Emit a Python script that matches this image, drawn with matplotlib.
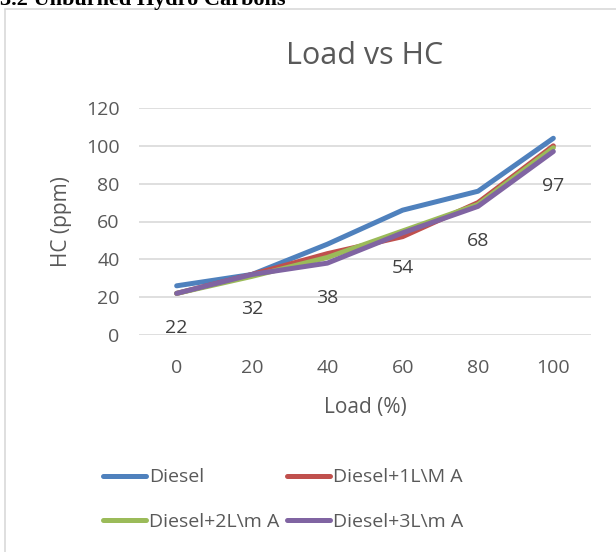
import matplotlib

matplotlib.use("Agg")

import matplotlib.pyplot as plt
from matplotlib.patches import Rectangle

# data
loads = [0, 20, 40, 60, 80, 100]
diesel = [26, 32, 48, 66, 76, 104]
diesel_1l = [22, 32, 43, 52, 70, 100]
diesel_2l = [22, 31, 41, 55, 69, 99]
diesel_3l = [22, 32, 38, 54, 68, 97]

series = [
    ("Diesel", diesel, "#4F81BD"),
    ("Diesel+1L\\M A", diesel_1l, "#C0504D"),
    ("Diesel+2L\\m A", diesel_2l, "#9BBB59"),
    ("Diesel+3L\\m A", diesel_3l, "#8064A2"),
]
label_values = diesel_3l

TXT = "#595959"
plt.rcParams["font.family"] = ["Open Sans", "DejaVu Sans"]

fig = plt.figure(figsize=(6.16, 5.52), dpi=100)

# chart-area frame and the clipped heading above it
fig.patches.append(Rectangle((5 / 616, -0.1), 1.2, 1 - 9 / 552 + 0.1,
                             transform=fig.transFigure, fill=False,
                             edgecolor="#d9d9d9", lw=1.2))
fig.text(0.0, 1 - 5 / 552, "3.2 Unburned Hydro Carbons", family="Liberation Serif",
         weight="bold", fontsize=16, va="baseline", ha="left", color="black")

ax = fig.add_axes([139 / 616, 1 - 335 / 552, (591 - 139) / 616, (335 - 108) / 552])
lines = []
for name, vals, col in series:
    ln, = ax.plot(loads, vals, color=col, lw=3.6, solid_capstyle="round", label=name)
    lines.append(ln)

for x, v in zip(loads, label_values):
    ax.annotate(str(v), (x, v), xytext=(0, -25), textcoords="offset points",
                ha="center", va="center", fontsize=14, color="#404040")

ax.set_xlim(-10, 110)
ax.set_ylim(0, 120)
ax.set_xticks(loads)
ax.set_yticks(range(0, 121, 20))
ax.grid(axis="y", color="#d9d9d9", lw=1.2)
ax.set_axisbelow(True)
for sp in ax.spines.values():
    sp.set_visible(False)
ax.tick_params(axis="x", length=0, labelsize=14, colors=TXT, pad=17)
ax.tick_params(axis="y", length=0, labelsize=14, colors=TXT, pad=14)
ax.set_xlabel("Load (%)", fontsize=15, color=TXT, labelpad=15)
ax.set_ylabel("HC (ppm)", fontsize=15, color=TXT, labelpad=10)
ax.set_title("Load vs HC", fontsize=22, color=TXT, pad=32)

# legend fills row by row in the reference
order = [0, 2, 1, 3]
fig.legend([lines[i] for i in order], [series[i][0] for i in order],
           loc="center", bbox_to_anchor=(0.46, 0.095), ncol=2, frameon=False,
           fontsize=14, labelcolor=TXT, handlelength=2.2, handletextpad=0.15,
           columnspacing=0.4, labelspacing=1.35)

fig.savefig("out.png", dpi=100)
